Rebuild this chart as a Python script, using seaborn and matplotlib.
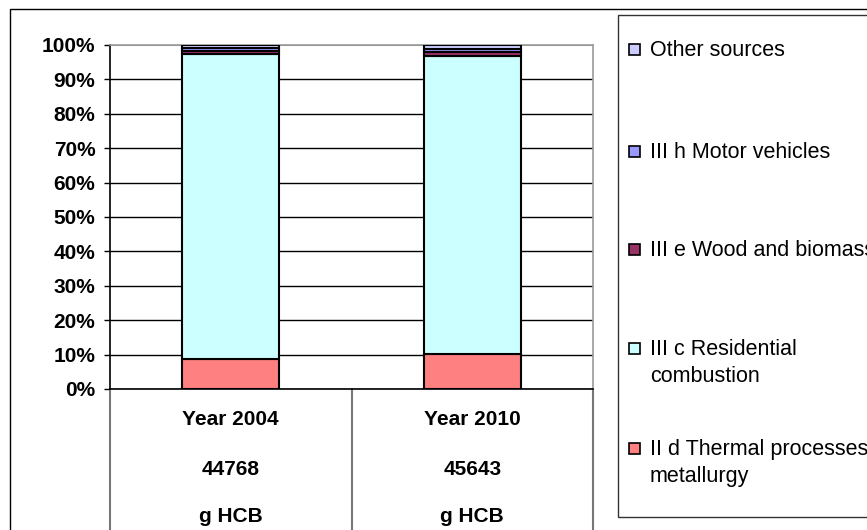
import matplotlib
matplotlib.use('Agg')
import matplotlib.pyplot as plt
import matplotlib.patches as patches
import seaborn as sns

# data (percent of total HCB emissions)
years = ['Year 2004', 'Year 2010']
totals = ['44768', '45643']
units = ['g HCB', 'g HCB']

thermal = [8.6, 10.2]
residential = [88.8, 86.6]
wood = [1.0, 1.3]
motor = [0.6, 0.7]
other = [1.0, 1.2]

series = [
    ('II d Thermal processes\nmetallurgy', thermal, '#FF8080'),
    ('III c Residential\ncombustion', residential, '#CCFFFF'),
    ('III e Wood and biomass', wood, '#993366'),
    ('III h Motor vehicles', motor, '#9999FF'),
    ('Other sources', other, '#CCCCFF'),
]

sns.set_style('white')
plt.rcParams['font.family'] = ['Liberation Sans', 'DejaVu Sans']
plt.rcParams['text.color'] = 'black'
plt.rcParams['xtick.color'] = 'black'
plt.rcParams['ytick.color'] = 'black'

W, H = 867, 530
fig = plt.figure(figsize=(W / 100, H / 100), dpi=100)
ax = fig.add_axes([110 / W, 1 - 389 / H, (593 - 110) / W, (389 - 45) / H])

# stacked bars
bottom = [0.0, 0.0]
for name, vals, col in series:
    sns.barplot(x=years, y=vals, bottom=bottom, color=col, saturation=1, edgecolor='black',
                linewidth=1.5, width=0.4, ax=ax, zorder=3)
    bottom = [b + v for b, v in zip(bottom, vals)]

ax.set_xlim(-0.5, 1.5)
ax.set_ylim(0, 100)
ax.set_yticks(range(0, 101, 10))
ax.set_yticklabels([f'{t}%' for t in range(0, 101, 10)], fontsize=15, fontweight='bold')
ax.tick_params(axis='y', which='major', left=True, length=4.5, width=1, color='black', pad=6)
ax.set_xticks([])
ax.set_xlabel('')
ax.set_ylabel('')

ax.yaxis.grid(True, color='black', linewidth=1)
ax.get_ygridlines()[-1].set_color('#999999')
ax.get_ygridlines()[-1].set_linewidth(1.5)
ax.set_axisbelow(True)

ax.spines['left'].set_color('black')
ax.spines['bottom'].set_color('black')
ax.spines['top'].set_color('#999999')
ax.spines['right'].set_color('#999999')
for s in ax.spines.values():
    s.set_linewidth(1.2)

# category table below the axis
for i in range(len(years)):
    for txt, yy in zip([years[i], totals[i], units[i]], [-0.09, -0.2326, -0.372]):
        ax.text(i, yy, txt, transform=ax.get_xaxis_transform(), ha='center', va='center',
                fontsize=15, fontweight='bold')
for xv in [-0.5, 0.5, 1.5]:
    ax.axvline(xv, ymin=-0.45, ymax=0, clip_on=False, color='#777777', linewidth=1.5)

# outer chart border
fig.patches.append(patches.Rectangle((10 / W, -0.1), 2, 1 - 9 / H + 0.1, transform=fig.transFigure,
                                     fill=False, edgecolor='black', linewidth=1))

# legend box
fig.patches.append(patches.Rectangle((618 / W, 1 - 517 / H), 0.5, (517 - 15) / H, transform=fig.transFigure,
                                     facecolor='white', edgecolor='#333333', linewidth=1))
legend_y = [448, 348, 249, 151, 49]
for (name, vals, col), ly in zip(series, legend_y):
    fig.patches.append(patches.Rectangle((629 / W, 1 - (ly + 5.5) / H), 11 / W, 11 / H,
                                         transform=fig.transFigure, facecolor=col,
                                         edgecolor='black', linewidth=1.2))
    fig.text(650 / W, 1 - (ly - 9) / H, name, ha='left', va='top', fontsize=15.5,
             linespacing=1.4)

fig.savefig('out.png', dpi=100)
